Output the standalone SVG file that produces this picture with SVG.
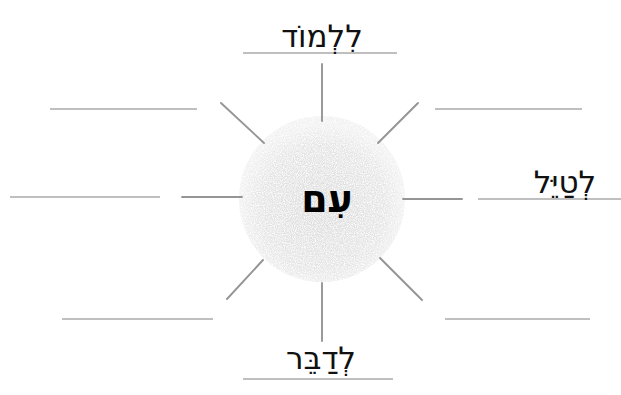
<svg xmlns="http://www.w3.org/2000/svg" width="621" height="395" viewBox="0 0 621 395">
  <style>
    .ans { stroke: #aaaaaa; stroke-width: 1.4; fill: none; }
    .spoke { stroke: #959595; stroke-width: 1.9; fill: none; stroke-linecap: round; }
    .lbl { font-family: "DejaVu Sans", "Liberation Sans", sans-serif; font-size: 31px; fill: #111; text-anchor: middle; }
    .ctr { font-family: "DejaVu Sans", "Liberation Sans", sans-serif; font-size: 38px; font-weight: bold; fill: #000; text-anchor: middle; }
  </style>
  <defs>
    <radialGradient id="g" cx="0.5" cy="0.55" r="0.5">
      <stop offset="0" stop-color="#dcdcdc"/>
      <stop offset="0.75" stop-color="#e5e5e5"/>
      <stop offset="1" stop-color="#f1f1f1"/>
    </radialGradient>
    <filter id="stip" x="0" y="0" width="1" height="1">
      <feTurbulence type="fractalNoise" baseFrequency="0.9" numOctaves="2" seed="3" result="n"/>
      <feColorMatrix in="n" type="matrix" values="0 0 0 0 1  0 0 0 0 1  0 0 0 0 1  0 0 0 -2.2 1.4" result="w"/>
      <feComposite in="w" in2="SourceGraphic" operator="in" result="wm"/>
      <feMerge><feMergeNode in="SourceGraphic"/><feMergeNode in="wm"/></feMerge>
    </filter>
  </defs>
  <rect width="621" height="395" fill="#ffffff"/>

  <g id="center">
    <circle cx="322" cy="199" r="83" fill="url(#g)" filter="url(#stip)"/>
    <text class="ctr" x="327" y="212">עִם</text>
  </g>

  <g id="connectors">
    <line class="spoke" x1="322" y1="64" x2="322" y2="121"/>
    <line class="spoke" x1="322" y1="283" x2="322" y2="341"/>
    <line class="spoke" x1="221" y1="103" x2="264" y2="143"/>
    <line class="spoke" x1="418" y1="103" x2="378" y2="143"/>
    <line class="spoke" x1="263" y1="260" x2="227" y2="299"/>
    <line class="spoke" x1="380" y1="258" x2="422" y2="300"/>
    <line class="spoke" x1="182" y1="197" x2="242" y2="197"/>
    <line class="spoke" x1="403" y1="199" x2="462" y2="199"/>
  </g>

  <g id="node-top">
    <line class="ans" x1="243" y1="53" x2="397" y2="53"/>
    <text class="lbl" x="322" y="47">לִלְמוֹד</text>
  </g>
  <g id="node-right">
    <line class="ans" x1="478" y1="199" x2="621" y2="199"/>
    <text class="lbl" x="565" y="193">לְטַיֵּל</text>
  </g>
  <g id="node-bottom">
    <line class="ans" x1="243" y1="379" x2="393" y2="379"/>
    <text class="lbl" x="321" y="369">לְדַבֵּר</text>
  </g>
  <g id="node-left">
    <line class="ans" x1="10" y1="197" x2="160" y2="197"/>
  </g>
  <g id="node-upper-left">
    <line class="ans" x1="50" y1="109" x2="197" y2="109"/>
  </g>
  <g id="node-upper-right">
    <line class="ans" x1="435" y1="109" x2="582" y2="109"/>
  </g>
  <g id="node-lower-left">
    <line class="ans" x1="62" y1="319" x2="213" y2="319"/>
  </g>
  <g id="node-lower-right">
    <line class="ans" x1="445" y1="319" x2="590" y2="319"/>
  </g>
</svg>
